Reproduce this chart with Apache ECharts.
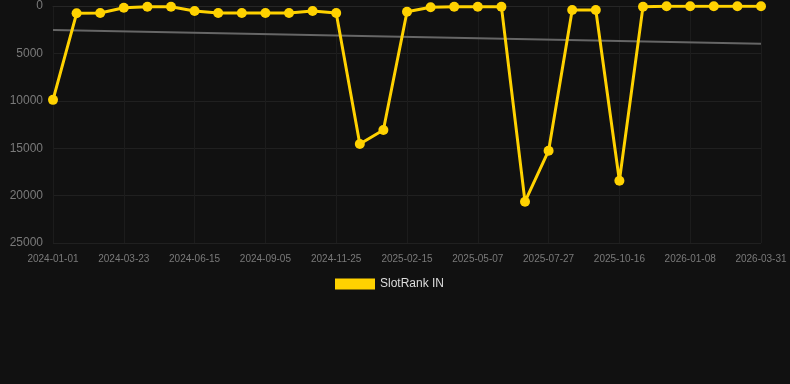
<!DOCTYPE html>
<html>
<head>
<meta charset="utf-8">
<script src="https://cdn.jsdelivr.net/npm/echarts@6/dist/echarts.min.js"></script>
<style>
html,body{margin:0;padding:0;background:#111111;}
#c{width:790px;height:384px;}
</style>
</head>
<body>
<div id="c"></div>
<script>
var categories = [
  '2024-01-01','2024-01-28','2024-02-24','2024-03-23','2024-04-19','2024-05-18',
  '2024-06-15','2024-07-12','2024-08-08','2024-09-05','2024-10-02','2024-10-29',
  '2024-11-25','2024-12-22','2025-01-19','2025-02-15','2025-03-14','2025-04-10',
  '2025-05-07','2025-06-03','2025-06-30','2025-07-27','2025-08-23','2025-09-19',
  '2025-10-16','2025-11-14','2025-12-11','2026-01-08','2026-02-04','2026-03-03',
  '2026-03-31'
];
var rankValues = [
  9900, 770, 740, 180, 70, 70,
  530, 740, 740, 740, 740, 530,
  740, 14550, 13080, 600, 140, 70,
  70, 70, 20640, 15260, 420, 420,
  18430, 70, 30, 30, 30, 30,
  30
];
var trendStart = 2530;
var trendEnd = 3980;
var seriesName = 'SlotRank IN';
var yTicks = [0, 5000, 10000, 15000, 20000, 25000];

var trendData = categories.map(function(c, i){
  if (i === 0) return trendStart;
  if (i === categories.length - 1) return trendEnd;
  return null;
});

var chart = echarts.init(document.getElementById('c'));
chart.setOption({
  backgroundColor: '#111111',
  animation: false,
  grid: { left: 53, right: 29, top: 6, bottom: 141, containLabel: false },
  legend: {
    data: [seriesName],
    top: 273,
    left: 330,
    itemWidth: 40,
    itemHeight: 11,
    icon: 'rect',
    textStyle: { color: '#dddddd', fontSize: 12, fontFamily: 'Liberation Sans, Arial, sans-serif' }
  },
  xAxis: {
    type: 'category',
    data: categories,
    boundaryGap: false,
    axisLine: { show: true, lineStyle: { color: '#262626' } },
    axisTick: { show: false },
    axisLabel: { interval: 2, color: '#7a7a7a', fontSize: 10, margin: 11, fontFamily: 'Liberation Sans, Arial, sans-serif' },
    splitLine: { show: true, interval: 2, lineStyle: { color: '#1c1c1c', width: 1 } }
  },
  yAxis: {
    type: 'value',
    inverse: true,
    min: yTicks[0],
    max: yTicks[yTicks.length - 1],
    interval: 5000,
    axisLine: { show: false },
    axisTick: { show: false },
    axisLabel: {
      color: '#7a7a7a', fontSize: 12, margin: 10,
      fontFamily: 'Liberation Sans, Arial, sans-serif',
      formatter: function(v){ return String(v); }
    },
    splitLine: { show: true, lineStyle: { color: '#202020', width: 1 } }
  },
  series: [
    {
      name: 'trend',
      type: 'line',
      data: trendData,
      connectNulls: true,
      symbol: 'none',
      lineStyle: { color: '#666666', width: 2 },
      silent: true,
      z: 1
    },
    {
      name: seriesName,
      type: 'line',
      data: rankValues,
      symbol: 'circle',
      symbolSize: 10,
      itemStyle: { color: '#FFD200' },
      lineStyle: { color: '#FFD200', width: 3 },
      z: 2
    }
  ]
});
</script>
</body>
</html>
